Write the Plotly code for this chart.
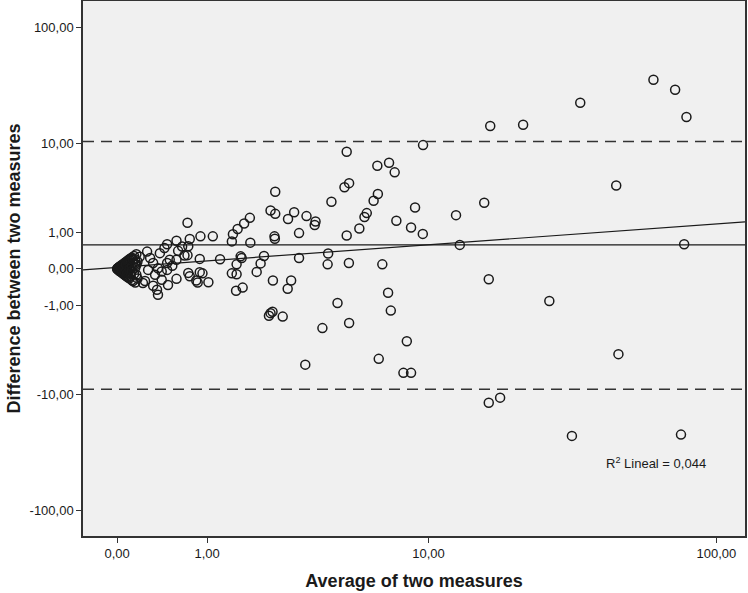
"""Bland-Altman plot of two measures on a signed log10(1+|v|) scale."""

import numpy as np
import plotly.graph_objects as go

# Average of the two measures (x) and their difference (y)
average = [
    # tight cluster close to zero
    0.0, 0.003, 0.005, 0.005, 0.01, 0.01, 0.01, 0.015, 0.015, 0.02, 0.02, 0.02,
    0.025, 0.025, 0.03, 0.03, 0.03, 0.035, 0.04, 0.04, 0.045, 0.05, 0.05, 0.05,
    0.055, 0.06, 0.06, 0.065, 0.07, 0.07, 0.075, 0.08, 0.08, 0.085, 0.09, 0.09,
    0.095, 0.10, 0.10, 0.11, 0.11, 0.12, 0.12, 0.13, 0.13, 0.14, 0.15, 0.15,
    0.16, 0.17,
    0.02, 0.03, 0.04, 0.04, 0.05, 0.06, 0.06, 0.07, 0.07, 0.08, 0.08, 0.09,
    0.09, 0.10, 0.10, 0.11, 0.12, 0.12, 0.13, 0.14, 0.15, 0.15, 0.16, 0.16,
    0.17,
    # between 0.2 and 1
    0.72, 0.58, 0.75, 0.73, 0.65, 0.47, 0.44, 0.39, 0.26, 0.68, 0.72, 0.58,
    0.50, 0.47, 0.32, 0.37, 0.41, 0.47, 0.73, 0.75, 0.48, 0.36, 0.37, 0.22,
    0.24, 0.32, 0.29, 0.34, 0.27, 0.53, 0.58, 0.41, 0.60, 0.19,
    # between 1 and 3
    2.38, 2.26, 2.38, 2.91, 2.73, 1.78, 1.66, 1.53, 1.44, 1.42, 0.90, 1.09,
    1.79, 2.36, 2.37, 0.89, 1.21, 1.59, 1.61, 2.10, 2.02, 1.93, 1.51, 1.42,
    1.51, 0.89, 0.93, 0.84, 0.86, 1.02, 2.32, 2.82, 2.72, 1.50, 1.63, 2.26,
    2.31, 2.22, 2.58,
    # between 3 and 8
    4.86, 6.42, 7.12, 7.48, 4.76, 4.97, 4.21, 6.21, 6.45, 3.30, 3.61, 3.58,
    5.84, 5.72, 7.59, 5.46, 4.86, 3.06, 3.06, 4.08, 4.06, 4.96, 6.71, 7.06,
    7.23, 4.46, 4.97, 3.86, 3.26, 6.50,
    # above 8
    61.2, 72.5, 79.2, 34.4, 16.7, 21.8, 9.55, 45.7, 15.9, 12.6, 8.92, 8.62,
    9.53, 13.0, 77.8, 16.5, 26.9, 8.31, 8.07, 8.62, 46.5, 16.5, 18.1, 32.2,
    75.9,
]
difference = [
    0.0, 0.006, 0.01, -0.01, 0.0, 0.02, -0.02, 0.03, -0.03, 0.0, 0.04, -0.04,
    0.05, -0.05, 0.02, -0.02, 0.06, -0.07, 0.08, 0.0, -0.09, 0.10, -0.10, 0.03,
    -0.04, 0.12, -0.12, 0.05, 0.14, -0.14, -0.06, 0.16, -0.16, 0.08, 0.18, -0.18,
    0.02, 0.20, -0.20, -0.10, 0.22, 0.24, -0.24, 0.12, -0.26, 0.28, -0.30, 0.10,
    0.32, -0.20,
    0.01, 0.0, 0.03, -0.03, 0.0, 0.04, -0.05, 0.0, 0.08, -0.08, 0.02, 0.10,
    -0.06, 0.0, 0.12, -0.15, 0.05, -0.04, 0.20, -0.10, 0.02, 0.20, -0.12, 0.08,
    0.15,
    1.41, 0.71, 0.77, 0.54, 0.53, 0.60, 0.49, 0.35, 0.39, 0.29, 0.30, 0.19,
    0.19, 0.12, 0.12, 0.01, -0.05, -0.02, -0.08, -0.15, -0.36, -0.49, -0.64, -0.31,
    -0.26, -0.38, 0.23, -0.12, -0.02, 0.06, -0.21, -0.23, 0.41, 0.26,
    3.36, 2.05, 1.86, 1.95, 1.59, 1.65, 1.38, 1.14, 0.94, 0.69, 0.86, 0.86,
    0.65, 0.86, 0.78, 0.21, 0.20, 0.27, 0.23, 0.28, 0.11, -0.06, 0.09, -0.09,
    -0.11, -0.065, -0.09, -0.25, -0.30, -0.29, -0.25, -0.25, -0.46, -0.52, -0.43, -1.33,
    -1.27, -1.45, -1.49,
    8.35, 6.16, 6.58, 5.32, 3.75, 4.14, 2.60, 2.67, 3.18, 1.74, 1.47, 1.31,
    1.90, 1.69, 1.51, 1.16, 0.89, 0.98, 0.23, 0.34, 0.09, 0.12, 0.09, -0.58,
    -1.22, -0.92, -1.81, -2.10, -5.23, -4.58,
    36.0, 29.6, 17.2, 22.9, 14.3, 14.7, 9.63, 3.91, 2.53, 1.79, 2.23, 1.20,
    0.95, 0.58, 0.60, -0.22, -0.85, -2.98, -6.29, -6.29, -4.10, -11.9, -10.7, -23.3,
    -22.7,
]

# Reference lines: mean difference and limits of agreement
mean_diff = 0.58
upper_loa = 10.4
lower_loa = -8.96

# Linear fit as drawn by SPSS (in transformed units)
fit_intercept = 0.0125
fit_slope = 0.18
r2_text = "R<sup>2</sup> Lineal = 0,044"

tick_values = [-100, -10, -1, 0, 1, 10, 100]
tick_labels = ["-100,00", "-10,00", "-1,00", "0,00", "1,00", "10,00", "100,00"]
x_tick_values = [0, 1, 10, 100]
x_tick_labels = ["0,00", "1,00", "10,00", "100,00"]


def safe_log(v):
    """Signed log10(1 + |v|), the scale used on both axes."""
    v = np.asarray(v, dtype=float)
    return np.sign(v) * np.log10(1 + np.abs(v))


x_range = [-0.114, 2.100]
y_range = [-2.216, 2.222]

font = "Liberation Sans, Arial, sans-serif"
fig = go.Figure()

# Fit line across the whole plot width
fit_x = np.array(x_range)
fig.add_trace(go.Scatter(x=fit_x, y=fit_intercept + fit_slope * fit_x, mode="lines",
                         line=dict(color="#1a1a1a", width=1.2), hoverinfo="skip"))

fig.add_trace(go.Scatter(x=safe_log(average), y=safe_log(difference), mode="markers",
                         marker=dict(symbol="circle-open", size=9, color="#1a1a1a",
                                     line=dict(width=1.5, color="#1a1a1a"))))

fig.add_hline(y=float(safe_log(mean_diff)), line=dict(color="#1a1a1a", width=1.3))
for level in (upper_loa, lower_loa):
    fig.add_hline(y=float(safe_log(level)), line=dict(color="#333333", width=1.6, dash="11px,7px"))

fig.add_annotation(text=r2_text, x=0.866, y=0.137, xref="paper", yref="paper",
                   xanchor="center", yanchor="middle", showarrow=False,
                   font=dict(family=font, size=13, color="#1a1a1a"))

axis_style = dict(showline=True, mirror=True, linecolor="#333333", linewidth=1.5,
                  ticks="outside", ticklen=5, tickcolor="#333333", tickwidth=1.2,
                  showgrid=False, zeroline=False, automargin=False,
                  tickfont=dict(family=font, size=13, color="#1a1a1a"))

fig.update_xaxes(range=x_range, tickvals=safe_log(x_tick_values), ticktext=x_tick_labels,
                 title=dict(text="<b>Average of two measures</b>", standoff=14,
                            font=dict(family=font, size=18, color="#1a1a1a")),
                 **axis_style)
fig.update_yaxes(range=y_range, tickvals=safe_log(tick_values), ticktext=tick_labels,
                 title=dict(text="<b>Difference between two measures</b>", standoff=4,
                            font=dict(family=font, size=18, color="#1a1a1a")),
                 **axis_style)

fig.update_layout(width=748, height=593, showlegend=False,
                  plot_bgcolor="#f0f0f0", paper_bgcolor="white",
                  margin=dict(l=83, r=3, t=1, b=57))

# The page body has a default 8px margin; drop it so the figure fills the window
fig.write_html("out.html", config={"displayModeBar": False},
               post_script="document.body.style.margin='0px';")
